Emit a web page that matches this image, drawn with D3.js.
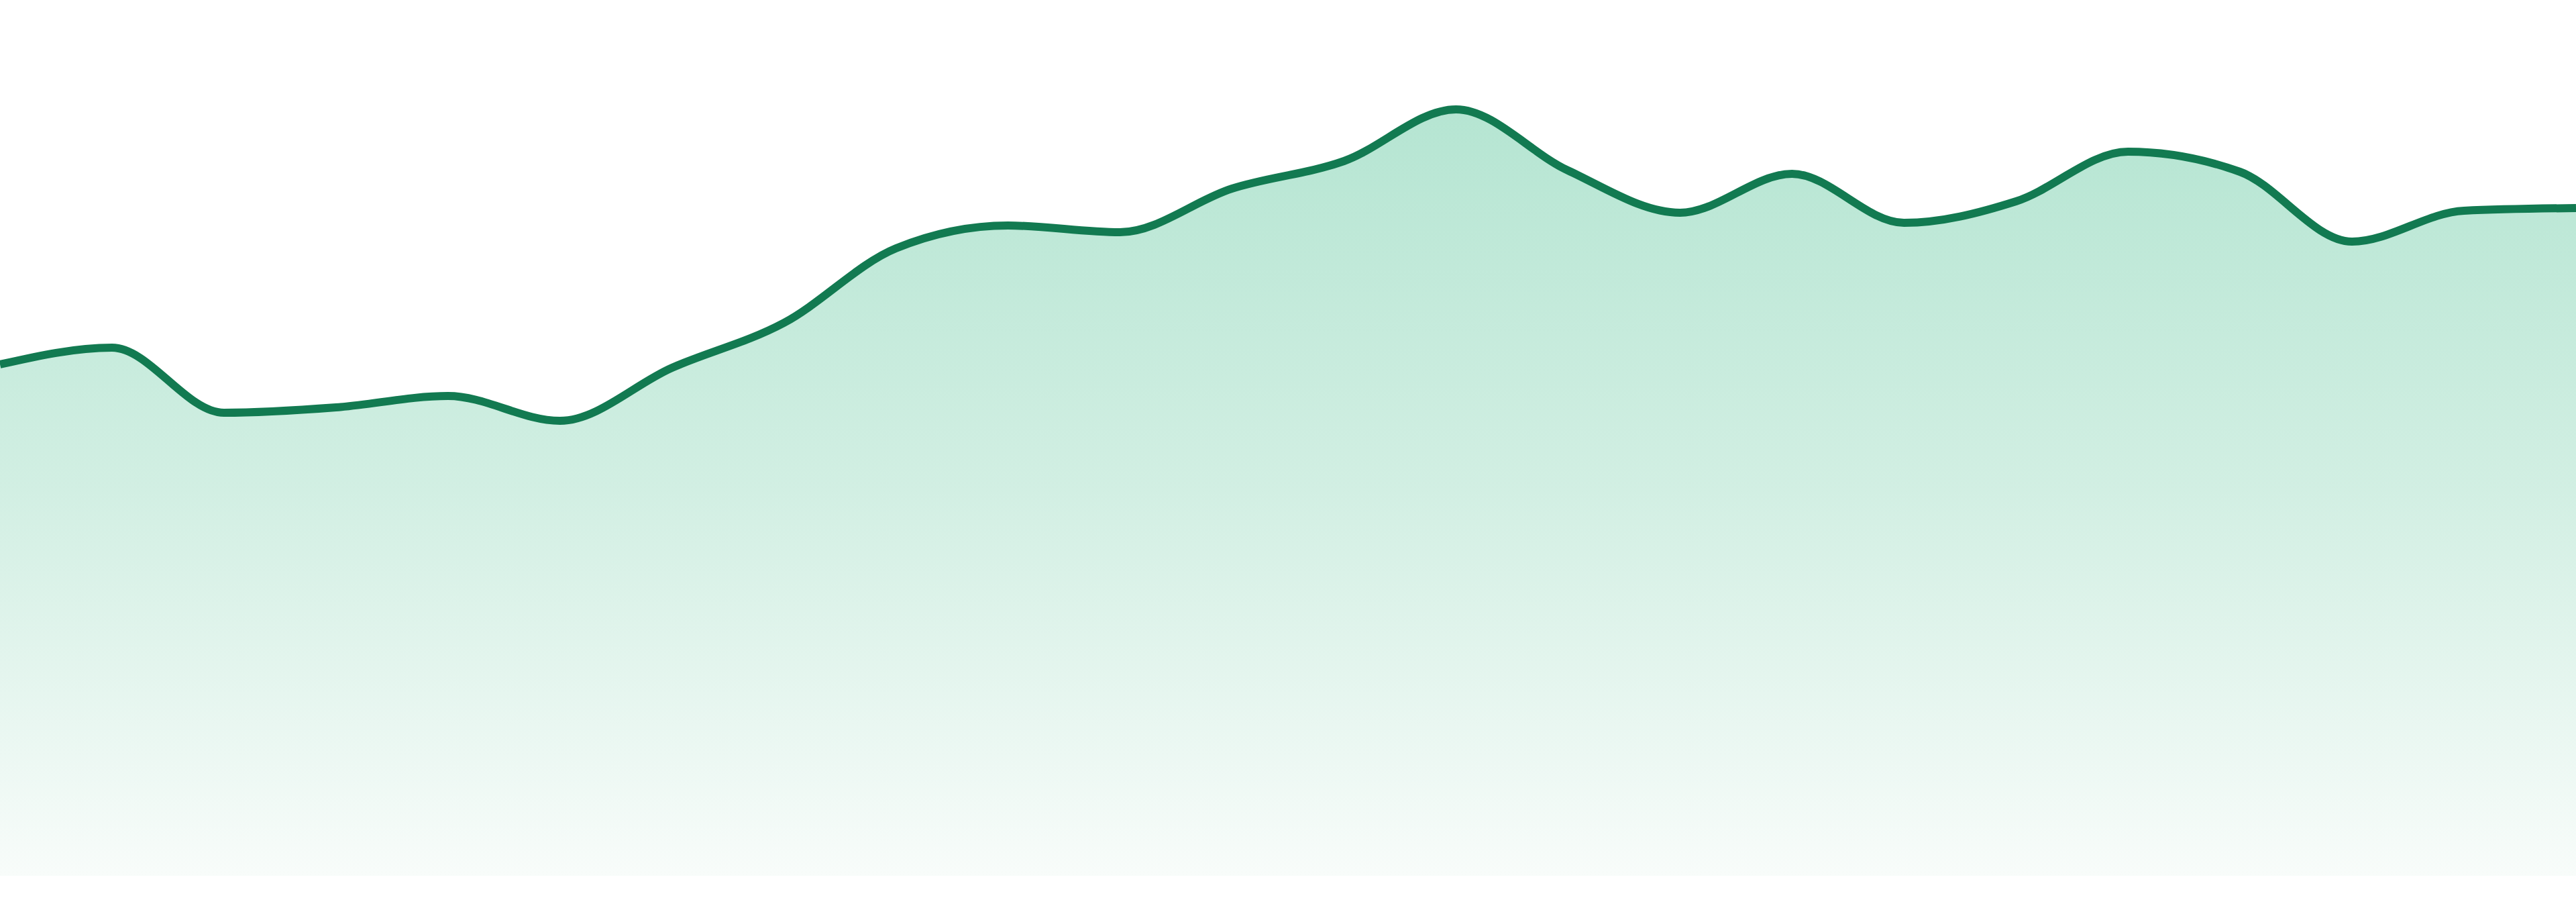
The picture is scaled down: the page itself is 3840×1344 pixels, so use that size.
<!DOCTYPE html>
<html>
<head>
<meta charset="utf-8">
<script src="https://cdn.jsdelivr.net/npm/d3@7"></script>
<style>
  html, body { margin: 0; padding: 0; background: #fff; }
  svg { display: block; }
</style>
</head>
<body>
<div id="chart"></div>
<script>
const width = 3840;
const height = 1344;

// values, one per step
const steps = d3.range(24);
const values = [
  76.2, 78.7, 69.0, 69.8, 71.5, 67.8, 75.7, 82.4,
  93.5, 96.9, 95.9, 102.4, 106.5, 114.2, 105.1, 98.8,
  104.6, 97.3, 100.5, 107.9, 104.9, 94.5, 99.1, 99.5
];
const yDomain = [0, 120];

const svg = d3.select("#chart")
  .append("svg")
  .attr("width", width)
  .attr("height", height);

const x = d3.scalePoint()
  .domain(steps)
  .range([0, width]);

const y = d3.scaleLinear()
  .domain(yDomain)
  .range([1305, 105]);

// gradient under the line
const grad = svg.append("defs")
  .append("linearGradient")
  .attr("id", "fill")
  .attr("x1", 0).attr("y1", 0)
  .attr("x2", 0).attr("y2", 1);
grad.append("stop").attr("offset", "0%").attr("stop-color", "#b5e5d2");
grad.append("stop").attr("offset", "50%").attr("stop-color", "#d2efe3");
grad.append("stop").attr("offset", "100%").attr("stop-color", "#f8fcfa");

const area = d3.area()
  .x((d, i) => x(steps[i]))
  .y0(y(0))
  .y1(d => y(d))
  .curve(d3.curveMonotoneX);

const line = d3.line()
  .x((d, i) => x(steps[i]))
  .y(d => y(d))
  .curve(d3.curveMonotoneX);

svg.append("path")
  .datum(values)
  .attr("d", area)
  .attr("fill", "url(#fill)");

svg.append("path")
  .datum(values)
  .attr("d", line)
  .attr("fill", "none")
  .attr("stroke", "#127a51")
  .attr("stroke-width", 12)
  .attr("stroke-linejoin", "round");
</script>
</body>
</html>
